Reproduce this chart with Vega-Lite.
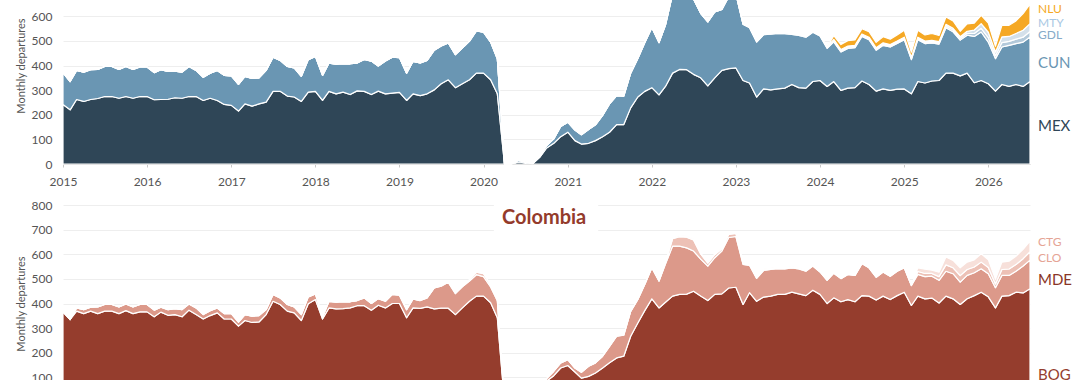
{
"$schema": "https://vega.github.io/schema/vega-lite/v6.json",
"padding": {"top": -39, "left": 15, "right": 0, "bottom": 0},
"spacing": 12,
"resolve": {"scale": {"fill": "independent"}},
"config": {
  "font": "Lato",
  "view": {"stroke": null},
  "axisX": {"title": null, "format": "%Y", "tickCount": {"interval": "year", "step": 1}, "grid": false, "domain": true, "domainColor": "#c8c8c8", "ticks": true, "tickColor": "#c8c8c8", "tickSize": 3, "labelPadding": 9, "labelFontSize": 12, "labelColor": "#555555", "labelFlush": false, "zindex": 1},
  "axisY": {"tickCount": 9, "grid": true, "gridColor": "#eeeeee", "domain": false, "ticks": false, "labelPadding": 11, "labelFontSize": 12, "labelColor": "#555555", "labelOverlap": false, "titleFontSize": 11, "titleFontWeight": "normal", "titleColor": "#555555", "titlePadding": 5}
},
"datasets": {
"mx": [
{"d":"2015-01","MEX":242,"CUN":129,"GDL":0,"MTY":0,"NLU":0},
{"d":"2015-02","MEX":220,"CUN":115,"GDL":0,"MTY":0,"NLU":0},
{"d":"2015-03","MEX":262,"CUN":118,"GDL":0,"MTY":0,"NLU":0},
{"d":"2015-04","MEX":254,"CUN":119,"GDL":0,"MTY":0,"NLU":0},
{"d":"2015-05","MEX":262,"CUN":121,"GDL":0,"MTY":0,"NLU":0},
{"d":"2015-06","MEX":266,"CUN":118,"GDL":0,"MTY":0,"NLU":0},
{"d":"2015-07","MEX":274,"CUN":122,"GDL":0,"MTY":0,"NLU":0},
{"d":"2015-08","MEX":274,"CUN":122,"GDL":0,"MTY":0,"NLU":0},
{"d":"2015-09","MEX":267,"CUN":117,"GDL":0,"MTY":0,"NLU":0},
{"d":"2015-10","MEX":274,"CUN":122,"GDL":0,"MTY":0,"NLU":0},
{"d":"2015-11","MEX":267,"CUN":117,"GDL":0,"MTY":0,"NLU":0},
{"d":"2015-12","MEX":274,"CUN":120,"GDL":0,"MTY":0,"NLU":0},
{"d":"2016-01","MEX":274,"CUN":120,"GDL":0,"MTY":0,"NLU":0},
{"d":"2016-02","MEX":261,"CUN":110,"GDL":0,"MTY":0,"NLU":0},
{"d":"2016-03","MEX":262,"CUN":121,"GDL":0,"MTY":0,"NLU":0},
{"d":"2016-04","MEX":263,"CUN":113,"GDL":0,"MTY":0,"NLU":0},
{"d":"2016-05","MEX":269,"CUN":108,"GDL":0,"MTY":0,"NLU":0},
{"d":"2016-06","MEX":267,"CUN":106,"GDL":0,"MTY":0,"NLU":0},
{"d":"2016-07","MEX":274,"CUN":122,"GDL":0,"MTY":0,"NLU":0},
{"d":"2016-08","MEX":274,"CUN":106,"GDL":0,"MTY":0,"NLU":0},
{"d":"2016-09","MEX":258,"CUN":94,"GDL":0,"MTY":0,"NLU":0},
{"d":"2016-10","MEX":267,"CUN":102,"GDL":0,"MTY":0,"NLU":0},
{"d":"2016-11","MEX":258,"CUN":122,"GDL":0,"MTY":0,"NLU":0},
{"d":"2016-12","MEX":242,"CUN":118,"GDL":0,"MTY":0,"NLU":0},
{"d":"2017-01","MEX":238,"CUN":120,"GDL":0,"MTY":0,"NLU":0},
{"d":"2017-02","MEX":215,"CUN":108,"GDL":0,"MTY":0,"NLU":0},
{"d":"2017-03","MEX":244,"CUN":112,"GDL":0,"MTY":0,"NLU":0},
{"d":"2017-04","MEX":235,"CUN":113,"GDL":0,"MTY":0,"NLU":0},
{"d":"2017-05","MEX":244,"CUN":106,"GDL":0,"MTY":0,"NLU":0},
{"d":"2017-06","MEX":251,"CUN":129,"GDL":0,"MTY":0,"NLU":0},
{"d":"2017-07","MEX":295,"CUN":139,"GDL":0,"MTY":0,"NLU":0},
{"d":"2017-08","MEX":295,"CUN":126,"GDL":0,"MTY":0,"NLU":0},
{"d":"2017-09","MEX":276,"CUN":120,"GDL":0,"MTY":0,"NLU":0},
{"d":"2017-10","MEX":272,"CUN":118,"GDL":0,"MTY":0,"NLU":0},
{"d":"2017-11","MEX":254,"CUN":102,"GDL":0,"MTY":0,"NLU":0},
{"d":"2017-12","MEX":292,"CUN":132,"GDL":0,"MTY":0,"NLU":0},
{"d":"2018-01","MEX":295,"CUN":142,"GDL":0,"MTY":0,"NLU":0},
{"d":"2018-02","MEX":258,"CUN":102,"GDL":0,"MTY":0,"NLU":0},
{"d":"2018-03","MEX":295,"CUN":115,"GDL":0,"MTY":0,"NLU":0},
{"d":"2018-04","MEX":285,"CUN":120,"GDL":0,"MTY":0,"NLU":0},
{"d":"2018-05","MEX":292,"CUN":115,"GDL":0,"MTY":0,"NLU":0},
{"d":"2018-06","MEX":282,"CUN":125,"GDL":0,"MTY":0,"NLU":0},
{"d":"2018-07","MEX":297,"CUN":113,"GDL":0,"MTY":0,"NLU":0},
{"d":"2018-08","MEX":295,"CUN":130,"GDL":0,"MTY":0,"NLU":0},
{"d":"2018-09","MEX":282,"CUN":136,"GDL":0,"MTY":0,"NLU":0},
{"d":"2018-10","MEX":296,"CUN":102,"GDL":0,"MTY":0,"NLU":0},
{"d":"2018-11","MEX":285,"CUN":133,"GDL":0,"MTY":0,"NLU":0},
{"d":"2018-12","MEX":288,"CUN":146,"GDL":0,"MTY":0,"NLU":0},
{"d":"2019-01","MEX":291,"CUN":141,"GDL":0,"MTY":0,"NLU":0},
{"d":"2019-02","MEX":258,"CUN":111,"GDL":0,"MTY":0,"NLU":0},
{"d":"2019-03","MEX":285,"CUN":132,"GDL":0,"MTY":0,"NLU":0},
{"d":"2019-04","MEX":278,"CUN":132,"GDL":0,"MTY":0,"NLU":0},
{"d":"2019-05","MEX":285,"CUN":136,"GDL":0,"MTY":0,"NLU":0},
{"d":"2019-06","MEX":301,"CUN":161,"GDL":0,"MTY":0,"NLU":0},
{"d":"2019-07","MEX":326,"CUN":153,"GDL":0,"MTY":0,"NLU":0},
{"d":"2019-08","MEX":342,"CUN":150,"GDL":0,"MTY":0,"NLU":0},
{"d":"2019-09","MEX":310,"CUN":134,"GDL":0,"MTY":0,"NLU":0},
{"d":"2019-10","MEX":326,"CUN":145,"GDL":0,"MTY":0,"NLU":0},
{"d":"2019-11","MEX":342,"CUN":157,"GDL":0,"MTY":0,"NLU":0},
{"d":"2019-12","MEX":369,"CUN":171,"GDL":0,"MTY":0,"NLU":0},
{"d":"2020-01","MEX":369,"CUN":166,"GDL":0,"MTY":0,"NLU":0},
{"d":"2020-02","MEX":342,"CUN":153,"GDL":0,"MTY":0,"NLU":0},
{"d":"2020-03","MEX":285,"CUN":142,"GDL":0,"MTY":0,"NLU":0},
{"d":"2020-04","MEX":0,"CUN":0,"GDL":0,"MTY":0,"NLU":0},
{"d":"2020-05","MEX":0,"CUN":0,"GDL":0,"MTY":0,"NLU":0},
{"d":"2020-06","MEX":8,"CUN":7,"GDL":0,"MTY":0,"NLU":0},
{"d":"2020-07","MEX":4,"CUN":4,"GDL":0,"MTY":0,"NLU":0},
{"d":"2020-08","MEX":1,"CUN":1,"GDL":0,"MTY":0,"NLU":0},
{"d":"2020-09","MEX":27,"CUN":7,"GDL":0,"MTY":0,"NLU":0},
{"d":"2020-10","MEX":65,"CUN":10,"GDL":0,"MTY":0,"NLU":0},
{"d":"2020-11","MEX":84,"CUN":18,"GDL":0,"MTY":0,"NLU":0},
{"d":"2020-12","MEX":111,"CUN":41,"GDL":0,"MTY":0,"NLU":0},
{"d":"2021-01","MEX":129,"CUN":41,"GDL":0,"MTY":0,"NLU":0},
{"d":"2021-02","MEX":95,"CUN":43,"GDL":0,"MTY":0,"NLU":0},
{"d":"2021-03","MEX":81,"CUN":38,"GDL":0,"MTY":0,"NLU":0},
{"d":"2021-04","MEX":84,"CUN":56,"GDL":0,"MTY":0,"NLU":0},
{"d":"2021-05","MEX":95,"CUN":64,"GDL":0,"MTY":0,"NLU":0},
{"d":"2021-06","MEX":111,"CUN":86,"GDL":0,"MTY":0,"NLU":0},
{"d":"2021-07","MEX":129,"CUN":115,"GDL":0,"MTY":0,"NLU":0},
{"d":"2021-08","MEX":160,"CUN":118,"GDL":0,"MTY":0,"NLU":0},
{"d":"2021-09","MEX":160,"CUN":116,"GDL":0,"MTY":0,"NLU":0},
{"d":"2021-10","MEX":228,"CUN":141,"GDL":0,"MTY":0,"NLU":0},
{"d":"2021-11","MEX":272,"CUN":156,"GDL":0,"MTY":0,"NLU":0},
{"d":"2021-12","MEX":295,"CUN":197,"GDL":0,"MTY":0,"NLU":0},
{"d":"2022-01","MEX":310,"CUN":244,"GDL":0,"MTY":0,"NLU":0},
{"d":"2022-02","MEX":281,"CUN":212,"GDL":0,"MTY":0,"NLU":0},
{"d":"2022-03","MEX":315,"CUN":249,"GDL":0,"MTY":0,"NLU":0},
{"d":"2022-04","MEX":369,"CUN":321,"GDL":0,"MTY":0,"NLU":0},
{"d":"2022-05","MEX":384,"CUN":321,"GDL":0,"MTY":0,"NLU":0},
{"d":"2022-06","MEX":383,"CUN":312,"GDL":0,"MTY":0,"NLU":0},
{"d":"2022-07","MEX":364,"CUN":306,"GDL":0,"MTY":0,"NLU":0},
{"d":"2022-08","MEX":350,"CUN":262,"GDL":0,"MTY":0,"NLU":0},
{"d":"2022-09","MEX":317,"CUN":260,"GDL":0,"MTY":0,"NLU":0},
{"d":"2022-10","MEX":350,"CUN":268,"GDL":0,"MTY":0,"NLU":0},
{"d":"2022-11","MEX":380,"CUN":248,"GDL":0,"MTY":0,"NLU":0},
{"d":"2022-12","MEX":387,"CUN":293,"GDL":0,"MTY":0,"NLU":0},
{"d":"2023-01","MEX":390,"CUN":300,"GDL":0,"MTY":0,"NLU":0},
{"d":"2023-02","MEX":339,"CUN":229,"GDL":0,"MTY":0,"NLU":0},
{"d":"2023-03","MEX":329,"CUN":225,"GDL":0,"MTY":0,"NLU":0},
{"d":"2023-04","MEX":272,"CUN":223,"GDL":3,"MTY":2,"NLU":0},
{"d":"2023-05","MEX":305,"CUN":220,"GDL":3,"MTY":2,"NLU":0},
{"d":"2023-06","MEX":301,"CUN":226,"GDL":3,"MTY":2,"NLU":0},
{"d":"2023-07","MEX":305,"CUN":225,"GDL":3,"MTY":2,"NLU":0},
{"d":"2023-08","MEX":308,"CUN":221,"GDL":3,"MTY":2,"NLU":0},
{"d":"2023-09","MEX":323,"CUN":203,"GDL":3,"MTY":2,"NLU":0},
{"d":"2023-10","MEX":310,"CUN":212,"GDL":3,"MTY":2,"NLU":0},
{"d":"2023-11","MEX":308,"CUN":207,"GDL":3,"MTY":2,"NLU":0},
{"d":"2023-12","MEX":335,"CUN":200,"GDL":3,"MTY":2,"NLU":0},
{"d":"2024-01","MEX":339,"CUN":181,"GDL":3,"MTY":2,"NLU":0},
{"d":"2024-02","MEX":315,"CUN":155,"GDL":3,"MTY":2,"NLU":0},
{"d":"2024-03","MEX":335,"CUN":161,"GDL":5,"MTY":5,"NLU":15},
{"d":"2024-04","MEX":299,"CUN":156,"GDL":5,"MTY":5,"NLU":20},
{"d":"2024-05","MEX":308,"CUN":161,"GDL":5,"MTY":5,"NLU":22},
{"d":"2024-06","MEX":310,"CUN":162,"GDL":5,"MTY":5,"NLU":22},
{"d":"2024-07","MEX":337,"CUN":181,"GDL":5,"MTY":5,"NLU":21},
{"d":"2024-08","MEX":323,"CUN":182,"GDL":5,"MTY":5,"NLU":22},
{"d":"2024-09","MEX":296,"CUN":166,"GDL":5,"MTY":5,"NLU":22},
{"d":"2024-10","MEX":305,"CUN":177,"GDL":5,"MTY":5,"NLU":25},
{"d":"2024-11","MEX":299,"CUN":176,"GDL":5,"MTY":5,"NLU":22},
{"d":"2024-12","MEX":304,"CUN":185,"GDL":5,"MTY":5,"NLU":25},
{"d":"2025-01","MEX":305,"CUN":200,"GDL":5,"MTY":5,"NLU":28},
{"d":"2025-02","MEX":285,"CUN":139,"GDL":5,"MTY":5,"NLU":20},
{"d":"2025-03","MEX":335,"CUN":170,"GDL":5,"MTY":5,"NLU":28},
{"d":"2025-04","MEX":329,"CUN":160,"GDL":5,"MTY":5,"NLU":25},
{"d":"2025-05","MEX":337,"CUN":155,"GDL":5,"MTY":5,"NLU":28},
{"d":"2025-06","MEX":339,"CUN":148,"GDL":5,"MTY":5,"NLU":25},
{"d":"2025-07","MEX":369,"CUN":184,"GDL":7,"MTY":7,"NLU":30},
{"d":"2025-08","MEX":369,"CUN":168,"GDL":7,"MTY":7,"NLU":30},
{"d":"2025-09","MEX":358,"CUN":145,"GDL":7,"MTY":7,"NLU":22},
{"d":"2025-10","MEX":369,"CUN":154,"GDL":8,"MTY":8,"NLU":30},
{"d":"2025-11","MEX":330,"CUN":188,"GDL":12,"MTY":14,"NLU":28},
{"d":"2025-12","MEX":339,"CUN":197,"GDL":15,"MTY":19,"NLU":34},
{"d":"2026-01","MEX":326,"CUN":169,"GDL":18,"MTY":22,"NLU":37},
{"d":"2026-02","MEX":296,"CUN":132,"GDL":12,"MTY":15,"NLU":23},
{"d":"2026-03","MEX":323,"CUN":152,"GDL":18,"MTY":23,"NLU":47},
{"d":"2026-04","MEX":315,"CUN":167,"GDL":16,"MTY":20,"NLU":45},
{"d":"2026-05","MEX":323,"CUN":166,"GDL":18,"MTY":23,"NLU":51},
{"d":"2026-06","MEX":315,"CUN":180,"GDL":20,"MTY":28,"NLU":68},
{"d":"2026-07","MEX":335,"CUN":181,"GDL":22,"MTY":32,"NLU":79}
],
"co": [
{"d":"2015-01","BOG":366,"MDE":0,"CLO":0,"CTG":0},
{"d":"2015-02","BOG":335,"MDE":0,"CLO":0,"CTG":0},
{"d":"2015-03","BOG":369,"MDE":13,"CLO":0,"CTG":0},
{"d":"2015-04","BOG":359,"MDE":16,"CLO":0,"CTG":0},
{"d":"2015-05","BOG":369,"MDE":16,"CLO":0,"CTG":0},
{"d":"2015-06","BOG":359,"MDE":27,"CLO":0,"CTG":0},
{"d":"2015-07","BOG":369,"MDE":27,"CLO":0,"CTG":0},
{"d":"2015-08","BOG":369,"MDE":27,"CLO":0,"CTG":0},
{"d":"2015-09","BOG":359,"MDE":27,"CLO":0,"CTG":0},
{"d":"2015-10","BOG":371,"MDE":27,"CLO":0,"CTG":0},
{"d":"2015-11","BOG":359,"MDE":27,"CLO":0,"CTG":0},
{"d":"2015-12","BOG":366,"MDE":30,"CLO":0,"CTG":0},
{"d":"2016-01","BOG":366,"MDE":30,"CLO":0,"CTG":0},
{"d":"2016-02","BOG":346,"MDE":27,"CLO":0,"CTG":0},
{"d":"2016-03","BOG":365,"MDE":20,"CLO":0,"CTG":0},
{"d":"2016-04","BOG":352,"MDE":23,"CLO":0,"CTG":0},
{"d":"2016-05","BOG":355,"MDE":24,"CLO":0,"CTG":0},
{"d":"2016-06","BOG":346,"MDE":29,"CLO":0,"CTG":0},
{"d":"2016-07","BOG":373,"MDE":25,"CLO":0,"CTG":0},
{"d":"2016-08","BOG":355,"MDE":27,"CLO":0,"CTG":0},
{"d":"2016-09","BOG":337,"MDE":18,"CLO":0,"CTG":0},
{"d":"2016-10","BOG":351,"MDE":20,"CLO":0,"CTG":0},
{"d":"2016-11","BOG":362,"MDE":20,"CLO":0,"CTG":0},
{"d":"2016-12","BOG":337,"MDE":22,"CLO":0,"CTG":0},
{"d":"2017-01","BOG":337,"MDE":22,"CLO":0,"CTG":0},
{"d":"2017-02","BOG":308,"MDE":16,"CLO":0,"CTG":0},
{"d":"2017-03","BOG":331,"MDE":24,"CLO":0,"CTG":0},
{"d":"2017-04","BOG":323,"MDE":26,"CLO":0,"CTG":0},
{"d":"2017-05","BOG":325,"MDE":26,"CLO":0,"CTG":0},
{"d":"2017-06","BOG":355,"MDE":20,"CLO":0,"CTG":0},
{"d":"2017-07","BOG":409,"MDE":28,"CLO":0,"CTG":0},
{"d":"2017-08","BOG":396,"MDE":27,"CLO":0,"CTG":0},
{"d":"2017-09","BOG":369,"MDE":27,"CLO":0,"CTG":0},
{"d":"2017-10","BOG":362,"MDE":24,"CLO":0,"CTG":0},
{"d":"2017-11","BOG":331,"MDE":24,"CLO":0,"CTG":0},
{"d":"2017-12","BOG":399,"MDE":28,"CLO":0,"CTG":0},
{"d":"2018-01","BOG":416,"MDE":23,"CLO":0,"CTG":0},
{"d":"2018-02","BOG":337,"MDE":8,"CLO":0,"CTG":0},
{"d":"2018-03","BOG":382,"MDE":27,"CLO":0,"CTG":0},
{"d":"2018-04","BOG":378,"MDE":27,"CLO":0,"CTG":0},
{"d":"2018-05","BOG":379,"MDE":28,"CLO":0,"CTG":0},
{"d":"2018-06","BOG":382,"MDE":25,"CLO":0,"CTG":0},
{"d":"2018-07","BOG":391,"MDE":21,"CLO":0,"CTG":0},
{"d":"2018-08","BOG":391,"MDE":32,"CLO":0,"CTG":0},
{"d":"2018-09","BOG":373,"MDE":27,"CLO":0,"CTG":0},
{"d":"2018-10","BOG":393,"MDE":27,"CLO":0,"CTG":0},
{"d":"2018-11","BOG":382,"MDE":27,"CLO":0,"CTG":0},
{"d":"2018-12","BOG":400,"MDE":37,"CLO":0,"CTG":0},
{"d":"2019-01","BOG":400,"MDE":34,"CLO":0,"CTG":0},
{"d":"2019-02","BOG":342,"MDE":33,"CLO":0,"CTG":0},
{"d":"2019-03","BOG":382,"MDE":37,"CLO":0,"CTG":0},
{"d":"2019-04","BOG":380,"MDE":32,"CLO":0,"CTG":0},
{"d":"2019-05","BOG":386,"MDE":37,"CLO":0,"CTG":0},
{"d":"2019-06","BOG":378,"MDE":85,"CLO":0,"CTG":0},
{"d":"2019-07","BOG":381,"MDE":89,"CLO":3,"CTG":0},
{"d":"2019-08","BOG":381,"MDE":105,"CLO":5,"CTG":0},
{"d":"2019-09","BOG":355,"MDE":85,"CLO":3,"CTG":0},
{"d":"2019-10","BOG":382,"MDE":86,"CLO":5,"CTG":0},
{"d":"2019-11","BOG":409,"MDE":82,"CLO":6,"CTG":0},
{"d":"2019-12","BOG":430,"MDE":87,"CLO":10,"CTG":0},
{"d":"2020-01","BOG":430,"MDE":79,"CLO":12,"CTG":0},
{"d":"2020-02","BOG":403,"MDE":64,"CLO":8,"CTG":0},
{"d":"2020-03","BOG":342,"MDE":69,"CLO":5,"CTG":0},
{"d":"2020-04","BOG":0,"MDE":0,"CLO":0,"CTG":0},
{"d":"2020-05","BOG":0,"MDE":0,"CLO":0,"CTG":0},
{"d":"2020-06","BOG":0,"MDE":0,"CLO":0,"CTG":0},
{"d":"2020-07","BOG":0,"MDE":0,"CLO":0,"CTG":0},
{"d":"2020-08","BOG":3,"MDE":0,"CLO":0,"CTG":0},
{"d":"2020-09","BOG":30,"MDE":3,"CLO":0,"CTG":0},
{"d":"2020-10","BOG":85,"MDE":10,"CLO":0,"CTG":0},
{"d":"2020-11","BOG":107,"MDE":18,"CLO":0,"CTG":0},
{"d":"2020-12","BOG":138,"MDE":21,"CLO":0,"CTG":0},
{"d":"2021-01","BOG":148,"MDE":24,"CLO":0,"CTG":0},
{"d":"2021-02","BOG":122,"MDE":16,"CLO":0,"CTG":0},
{"d":"2021-03","BOG":97,"MDE":24,"CLO":0,"CTG":0},
{"d":"2021-04","BOG":104,"MDE":41,"CLO":0,"CTG":0},
{"d":"2021-05","BOG":118,"MDE":41,"CLO":0,"CTG":0},
{"d":"2021-06","BOG":138,"MDE":48,"CLO":0,"CTG":0},
{"d":"2021-07","BOG":159,"MDE":67,"CLO":0,"CTG":0},
{"d":"2021-08","BOG":179,"MDE":88,"CLO":0,"CTG":0},
{"d":"2021-09","BOG":186,"MDE":85,"CLO":3,"CTG":0},
{"d":"2021-10","BOG":267,"MDE":101,"CLO":0,"CTG":0},
{"d":"2021-11","BOG":321,"MDE":95,"CLO":0,"CTG":0},
{"d":"2021-12","BOG":371,"MDE":106,"CLO":0,"CTG":0},
{"d":"2022-01","BOG":419,"MDE":126,"CLO":0,"CTG":0},
{"d":"2022-02","BOG":382,"MDE":109,"CLO":0,"CTG":0},
{"d":"2022-03","BOG":405,"MDE":155,"CLO":5,"CTG":0},
{"d":"2022-04","BOG":430,"MDE":203,"CLO":30,"CTG":4},
{"d":"2022-05","BOG":437,"MDE":196,"CLO":38,"CTG":5},
{"d":"2022-06","BOG":438,"MDE":188,"CLO":43,"CTG":5},
{"d":"2022-07","BOG":450,"MDE":163,"CLO":45,"CTG":5},
{"d":"2022-08","BOG":430,"MDE":150,"CLO":21,"CTG":4},
{"d":"2022-09","BOG":412,"MDE":140,"CLO":12,"CTG":3},
{"d":"2022-10","BOG":437,"MDE":149,"CLO":12,"CTG":3},
{"d":"2022-11","BOG":439,"MDE":174,"CLO":9,"CTG":3},
{"d":"2022-12","BOG":463,"MDE":205,"CLO":13,"CTG":5},
{"d":"2023-01","BOG":466,"MDE":206,"CLO":13,"CTG":5},
{"d":"2023-02","BOG":396,"MDE":163,"CLO":4,"CTG":2},
{"d":"2023-03","BOG":444,"MDE":111,"CLO":4,"CTG":2},
{"d":"2023-04","BOG":409,"MDE":93,"CLO":4,"CTG":2},
{"d":"2023-05","BOG":426,"MDE":108,"CLO":4,"CTG":2},
{"d":"2023-06","BOG":430,"MDE":108,"CLO":4,"CTG":2},
{"d":"2023-07","BOG":437,"MDE":105,"CLO":4,"CTG":2},
{"d":"2023-08","BOG":437,"MDE":103,"CLO":4,"CTG":2},
{"d":"2023-09","BOG":446,"MDE":99,"CLO":3,"CTG":2},
{"d":"2023-10","BOG":439,"MDE":101,"CLO":3,"CTG":1},
{"d":"2023-11","BOG":432,"MDE":99,"CLO":3,"CTG":1},
{"d":"2023-12","BOG":454,"MDE":98,"CLO":2,"CTG":1},
{"d":"2024-01","BOG":437,"MDE":91,"CLO":2,"CTG":1},
{"d":"2024-02","BOG":400,"MDE":94,"CLO":1,"CTG":1},
{"d":"2024-03","BOG":423,"MDE":100,"CLO":1,"CTG":0},
{"d":"2024-04","BOG":407,"MDE":94,"CLO":1,"CTG":0},
{"d":"2024-05","BOG":416,"MDE":102,"CLO":0,"CTG":0},
{"d":"2024-06","BOG":407,"MDE":107,"CLO":0,"CTG":0},
{"d":"2024-07","BOG":432,"MDE":130,"CLO":0,"CTG":0},
{"d":"2024-08","BOG":430,"MDE":115,"CLO":0,"CTG":0},
{"d":"2024-09","BOG":414,"MDE":93,"CLO":0,"CTG":0},
{"d":"2024-10","BOG":430,"MDE":98,"CLO":0,"CTG":0},
{"d":"2024-11","BOG":416,"MDE":95,"CLO":0,"CTG":0},
{"d":"2024-12","BOG":432,"MDE":99,"CLO":0,"CTG":0},
{"d":"2025-01","BOG":446,"MDE":99,"CLO":0,"CTG":0},
{"d":"2025-02","BOG":392,"MDE":81,"CLO":0,"CTG":0},
{"d":"2025-03","BOG":430,"MDE":88,"CLO":12,"CTG":15},
{"d":"2025-04","BOG":419,"MDE":90,"CLO":13,"CTG":17},
{"d":"2025-05","BOG":422,"MDE":89,"CLO":11,"CTG":13},
{"d":"2025-06","BOG":402,"MDE":92,"CLO":15,"CTG":18},
{"d":"2025-07","BOG":430,"MDE":101,"CLO":26,"CTG":32},
{"d":"2025-08","BOG":419,"MDE":102,"CLO":24,"CTG":30},
{"d":"2025-09","BOG":396,"MDE":91,"CLO":26,"CTG":32},
{"d":"2025-10","BOG":419,"MDE":95,"CLO":24,"CTG":30},
{"d":"2025-11","BOG":432,"MDE":93,"CLO":23,"CTG":29},
{"d":"2025-12","BOG":446,"MDE":95,"CLO":27,"CTG":34},
{"d":"2026-01","BOG":427,"MDE":94,"CLO":25,"CTG":32},
{"d":"2026-02","BOG":382,"MDE":82,"CLO":15,"CTG":19},
{"d":"2026-03","BOG":430,"MDE":84,"CLO":24,"CTG":30},
{"d":"2026-04","BOG":432,"MDE":82,"CLO":26,"CTG":32},
{"d":"2026-05","BOG":446,"MDE":85,"CLO":27,"CTG":34},
{"d":"2026-06","BOG":443,"MDE":109,"CLO":30,"CTG":38},
{"d":"2026-07","BOG":460,"MDE":116,"CLO":34,"CTG":43}
]
},
"vconcat": [
{
  "width": 967, "height": 197,
  "layer": [
    {
      "data": {"name": "mx"},
      "transform": [
        {"fold": ["MEX","CUN","GDL","MTY","NLU"], "as": ["airport","value"]},
        {"lookup": "airport", "from": {"data": {"values": [{"airport":"MEX","rank":1},{"airport":"CUN","rank":2},{"airport":"GDL","rank":3},{"airport":"MTY","rank":4},{"airport":"NLU","rank":5}]}, "key": "airport", "fields": ["rank"]}}
      ],
      "mark": {"type": "area", "stroke": "white", "strokeWidth": 1.2, "strokeJoin": "round", "interpolate": "linear"},
      "encoding": {
        "x": {"field": "d", "type": "temporal", "scale": {"type": "utc", "domain": [{"year":2015,"month":1,"date":1,"utc":true},{"year":2026,"month":7,"date":1,"utc":true}]}},
        "y": {"field": "value", "type": "quantitative", "stack": "zero", "scale": {"domain": [0,800]}, "axis": {"title": "Monthly departures", "values": [0,100,200,300,400,500,600,700,800]}},
        "fill": {"field": "airport", "type": "nominal", "scale": {"domain": ["MEX","CUN","GDL","MTY","NLU"], "range": ["#2f4657","#6a96b3","#b3c9da","#d4e0ea","#f5a824"]}, "legend": null},
        "order": {"field": "rank", "type": "quantitative", "sort": "ascending"}
      }
    },
    {
      "data": {"values": [{}]},
      "layer": [
        {"mark": {"type":"text","text":"NLU","align":"left","baseline":"middle","dx":8,"fontSize":12,"color":"#f5a824"},
         "encoding": {"x": {"datum": {"year":2026,"month":7,"date":1,"utc":true}, "type":"temporal"}, "y": {"datum": 628, "type":"quantitative"}}},
        {"mark": {"type":"text","text":"MTY","align":"left","baseline":"middle","dx":8,"fontSize":12,"color":"#a9c8e3"},
         "encoding": {"x": {"datum": {"year":2026,"month":7,"date":1,"utc":true}, "type":"temporal"}, "y": {"datum": 571, "type":"quantitative"}}},
        {"mark": {"type":"text","text":"GDL","align":"left","baseline":"middle","dx":8,"fontSize":12,"color":"#86abc9"},
         "encoding": {"x": {"datum": {"year":2026,"month":7,"date":1,"utc":true}, "type":"temporal"}, "y": {"datum": 524, "type":"quantitative"}}},
        {"mark": {"type":"text","text":"CUN","align":"left","baseline":"middle","dx":8,"fontSize":15,"color":"#6a96b3"},
         "encoding": {"x": {"datum": {"year":2026,"month":7,"date":1,"utc":true}, "type":"temporal"}, "y": {"datum": 409, "type":"quantitative"}}},
        {"mark": {"type":"text","text":"MEX","align":"left","baseline":"middle","dx":8,"fontSize":15,"color":"#2f4657"},
         "encoding": {"x": {"datum": {"year":2026,"month":7,"date":1,"utc":true}, "type":"temporal"}, "y": {"datum": 154, "type":"quantitative"}}}
      ]
    }
  ]
},
{
  "width": 967, "height": 197,
  "layer": [
    {
      "data": {"name": "co"},
      "transform": [
        {"fold": ["BOG","MDE","CLO","CTG"], "as": ["airport","value"]},
        {"lookup": "airport", "from": {"data": {"values": [{"airport":"BOG","rank":1},{"airport":"MDE","rank":2},{"airport":"CLO","rank":3},{"airport":"CTG","rank":4}]}, "key": "airport", "fields": ["rank"]}}
      ],
      "mark": {"type": "area", "stroke": "white", "strokeWidth": 1.2, "strokeJoin": "round", "interpolate": "linear"},
      "encoding": {
        "x": {"field": "d", "type": "temporal", "scale": {"type": "utc", "domain": [{"year":2015,"month":1,"date":1,"utc":true},{"year":2026,"month":7,"date":1,"utc":true}]}},
        "y": {"field": "value", "type": "quantitative", "stack": "zero", "scale": {"domain": [0,800]}, "axis": {"title": "Monthly departures", "values": [0,100,200,300,400,500,600,700,800]}},
        "fill": {"field": "airport", "type": "nominal", "scale": {"domain": ["BOG","MDE","CLO","CTG"], "range": ["#953d2d","#dc998a","#edc1b6","#f7e0da"]}, "legend": null},
        "order": {"field": "rank", "type": "quantitative", "sort": "ascending"}
      }
    },
    {
      "data": {"values": [{}]},
      "layer": [
        {"mark": {"type":"rect","fill":"white"},
         "encoding": {"x": {"datum": {"year":2020,"month":2,"date":15,"utc":true}, "type":"temporal"}, "x2": {"datum": {"year":2021,"month":5,"date":13,"utc":true}}, "y": {"datum": 690, "type":"quantitative"}, "y2": {"datum": 812}}},
        {"mark": {"type":"text","text":"Colombia","align":"center","baseline":"alphabetic","fontSize":20,"fontWeight":"bold","color":"#943b2b"},
         "encoding": {"x": {"datum": {"year":2020,"month":9,"date":20,"utc":true}, "type":"temporal"}, "y": {"datum": 721, "type":"quantitative"}}},
        {"mark": {"type":"text","text":"CTG","align":"left","baseline":"middle","dx":8,"fontSize":12,"color":"#e5a495"},
         "encoding": {"x": {"datum": {"year":2026,"month":7,"date":1,"utc":true}, "type":"temporal"}, "y": {"datum": 651, "type":"quantitative"}}},
        {"mark": {"type":"text","text":"CLO","align":"left","baseline":"middle","dx":8,"fontSize":12,"color":"#e5a495"},
         "encoding": {"x": {"datum": {"year":2026,"month":7,"date":1,"utc":true}, "type":"temporal"}, "y": {"datum": 584, "type":"quantitative"}}},
        {"mark": {"type":"text","text":"MDE","align":"left","baseline":"middle","dx":8,"fontSize":15,"color":"#8a3527"},
         "encoding": {"x": {"datum": {"year":2026,"month":7,"date":1,"utc":true}, "type":"temporal"}, "y": {"datum": 496, "type":"quantitative"}}},
        {"mark": {"type":"text","text":"BOG","align":"left","baseline":"middle","dx":8,"fontSize":15,"color":"#953d2d"},
         "encoding": {"x": {"datum": {"year":2026,"month":7,"date":1,"utc":true}, "type":"temporal"}, "y": {"datum": 109, "type":"quantitative"}}}
      ]
    }
  ]
}
]
}
